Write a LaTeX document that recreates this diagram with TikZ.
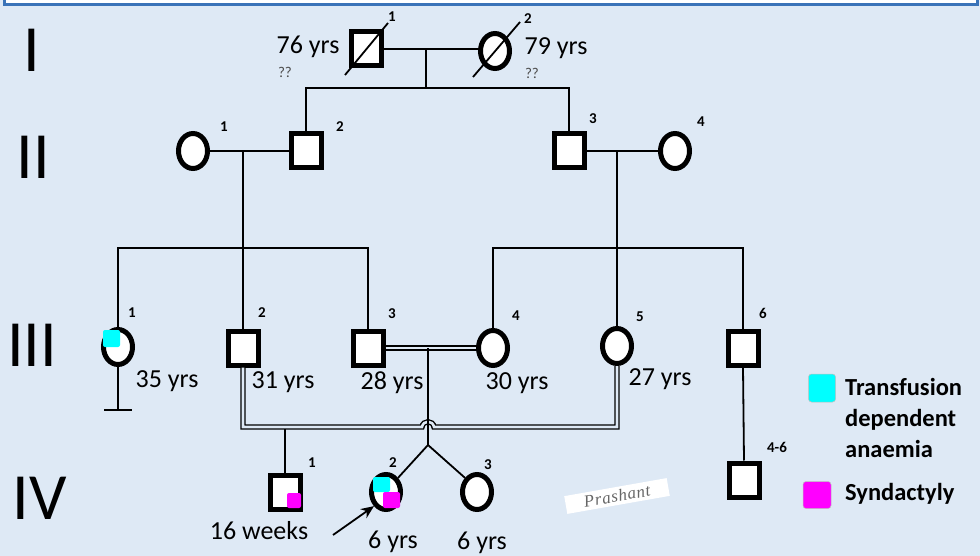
\documentclass[tikz,border=0pt]{standalone}
\usepackage{fontspec}
\setmainfont{Carlito}
\newfontfamily\sigfont[LetterSpace=4]{Liberation Serif}
\usetikzlibrary{shapes.geometric,arrows.meta}
\definecolor{bg}{HTML}{DEE9F5}
\definecolor{frameblue}{HTML}{3A73B8}
\definecolor{tda}{HTML}{00FFFF}
\definecolor{syn}{HTML}{FF00FF}
\begin{document}
\begin{tikzpicture}[x=1pt,y=-1pt,
  male/.style={draw,rectangle,line width=5pt,fill=white,minimum width=30pt,minimum height=34pt,inner sep=0pt},
  female/.style={draw,ellipse,line width=5pt,fill=white,minimum width=29pt,minimum height=35pt,inner sep=0pt},
  conn/.style={line width=1.8pt},
  dbl/.style={draw=black,line width=1.4pt,double=bg,double distance=2.6pt},
  num/.style={font=\fontsize{15}{15}\selectfont\bfseries,inner sep=0pt},
  age/.style={font=\fontsize{26}{26}\selectfont,inner sep=0pt},
  qq/.style={font=\fontsize{15}{15}\selectfont,text=black!70,inner sep=0pt},
  gen/.style={font=\fontsize{66}{66}\selectfont,inner sep=0pt},
  legtext/.style={font=\fontsize{24.5}{31}\selectfont\bfseries,inner sep=0pt,align=left,anchor=west},
  affmark/.style={rounded corners=2pt}
]
\useasboundingbox (0,0) rectangle (980,556);
\fill[bg] (0,0) rectangle (980,556);
\draw[frameblue,line width=3pt,fill=white] (4,-20) rectangle (977,5);

% generation numerals
\node[gen] (gI) at (32,50) {I};
\node[gen] (gII) at (33,157) {II};
\node[gen] (gIII) at (32,345) {III};
\node[gen] (gIV) at (40,498) {IV};

% Generation I
\node[male] (I1) at (366,49) {};
\node[female] (I2) at (495,51) {};
\coordinate (s1a) at (345,75); \coordinate (s1b) at (388,23);
\coordinate (s2a) at (473,77); \coordinate (s2b) at (520,22);
\draw[line width=1.8pt] (s1a) -- (s1b);
\draw[line width=1.8pt] (s2a) -- (s2b);
\node[num] (nI1) at (392,17) {1};
\node[num] (nI2) at (528,19) {2};
\node[age,anchor=base] (aI1) at (308,54) {76 yrs};
\node[qq] (qI1) at (285,72) {??};
\node[age,anchor=base] (aI2) at (556,55) {79 yrs};
\node[qq] (qI2) at (532,73) {??};

% Generation II
\node[female] (II1) at (193,151) {};
\node[male] (II2) at (306,151) {};
\node[male] (II3) at (569,151) {};
\node[female] (II4) at (675,151) {};
\node[num] (nII1) at (224,127) {1};
\node[num] (nII2) at (340,127) {2};
\node[num] (nII3) at (593,119) {3};
\node[num] (nII4) at (701,122) {4};

% Generation III
\node[female] (III1) at (118,347) {};
\node[male] (III2) at (243,348) {};
\node[male] (III3) at (368,348) {};
\node[female] (III4) at (493,348) {};
\node[female] (III5) at (617,346) {};
\node[male] (III6) at (743,348) {};
\node[num] (nIII1) at (132,313) {1};
\node[num] (nIII2) at (262,313) {2};
\node[num] (nIII3) at (392,314) {3};
\node[num] (nIII4) at (516,316) {4};
\node[num] (nIII5) at (640,317) {5};
\node[num] (nIII6) at (763,313) {6};
\node[age] (aIII1) at (167,381) {35 yrs};
\node[age] (aIII2) at (283,382) {31 yrs};
\node[age] (aIII3) at (392,383) {28 yrs};
\node[age] (aIII4) at (517,383) {30 yrs};
\node[age] (aIII5) at (660,379) {27 yrs};

% Generation IV
\node[male] (IV1) at (285,492) {};
\node[female] (IV2) at (386,492) {};
\node[female] (IV3) at (477,492) {};
\node[male] (IV46) at (744,480) {};
\node[num] (nIV1) at (312,463) {1};
\node[num] (nIV2) at (393,463) {2};
\node[num] (nIV3) at (488,465) {3};
\node[num] (nIV46) at (777,447) {4-6};
\node[age] (aIV1) at (259,531) {16 weeks};
\node[age] (aIV2) at (393,542) {6 yrs};
\node[age] (aIV3) at (482,543) {6 yrs};

% affection marks
\fill[tda,affmark] (103,330) rectangle (120,347);
\fill[syn,affmark] (287,493) rectangle (301,508);
\fill[tda,affmark] (373,477) rectangle (390,492);
\fill[syn,affmark] (383,492) rectangle (400,508);

% connectors generation I -> II
\coordinate (mI) at (426,49);
\coordinate (sibI) at (426,88);
\coordinate (sibIL) at (306,88);
\coordinate (sibIR) at (569,88);
\draw[conn] (I1.east) -- (I2.west |- I1.east);
\draw[conn] (mI) -- (sibI);
\draw[conn] (II2.north) -- (sibIL) -- (sibIR) -- (II3.north);

% II -> III
\coordinate (mIIa) at (243,151);
\coordinate (sibIIa) at (243,248);
\coordinate (sibIIaL) at (118,248);
\coordinate (sibIIaR) at (368,248);
\draw[conn] (II1.east) -- (II2.west);
\draw[conn] (mIIa) -- (sibIIa);
\draw[conn] (III1.north) -- (sibIIaL) -- (sibIIaR) -- (III3.north);
\draw[conn] (sibIIa) -- (III2.north);

\coordinate (mIIb) at (617,151);
\coordinate (sibIIb) at (617,248);
\coordinate (sibIIbL) at (493,248);
\coordinate (sibIIbR) at (743,248);
\draw[conn] (II3.east) -- (II4.west);
\draw[conn] (mIIb) -- (sibIIb);
\draw[conn] (III4.north) -- (sibIIbL) -- (sibIIbR) -- (III6.north);
\draw[conn] (sibIIb) -- (III5.north);

% III-1 no offspring
\coordinate (noo) at (118,410);
\coordinate (nooL) at (104,410);
\coordinate (nooR) at (132,410);
\draw[conn] (III1.south) -- (noo);
\draw[conn] (nooL) -- (nooR);

% consanguineous union III-2 x III-5
\coordinate (c1) at (243,427);
\coordinate (hopL) at (422,427);
\coordinate (hopR) at (434,427);
\coordinate (c2) at (617,427);
\draw[dbl] (III2.south) -- (c1) -- (hopL) .. controls (423,420) and (433,420) .. (hopR) -- (c2) -- (III5.south);
\coordinate (dIV1) at (285,429);
\draw[conn] (dIV1) -- (IV1.north);

% consanguineous union III-3 x III-4
\draw[dbl] (III3.east) -- (III4.west);
\coordinate (mIIIb) at (428,348);
\coordinate (twin) at (428,445);
\draw[conn] (mIIIb) -- (twin);
\draw[conn] (IV2.north east) -- (twin) -- (IV3.north west);

% III-6 -> IV 4-6
\draw[conn] (III6.south) -- (IV46.north);

% proband arrow
\coordinate (arrtail) at (333,535);
\draw[line width=1.8pt,-{Stealth[length=13pt,width=11pt]}] (arrtail) -- (IV2.south west);

% signature
\node[fill=white,rotate=10,minimum width=104pt,minimum height=18pt,inner sep=1pt,
      font=\sigfont\itshape\fontsize{17}{17}\selectfont,text=black!60] (sig) at (617,496) {Prashant};

% legend
\node[fill=tda,rounded corners=3pt,draw=black!25,line width=0.5pt,minimum width=27pt,minimum height=28pt,inner sep=0pt] (legA) at (822,388) {};
\node[legtext] (legAt) at (845,418) {Transfusion\\dependent\\anaemia};
\node[fill=syn,rounded corners=3pt,draw=black!25,line width=0.5pt,minimum width=28pt,minimum height=27pt,inner sep=0pt] (legB) at (817,495) {};
\node[legtext] (legBt) at (845,494) {Syndactyly};
\end{tikzpicture}
\end{document}
